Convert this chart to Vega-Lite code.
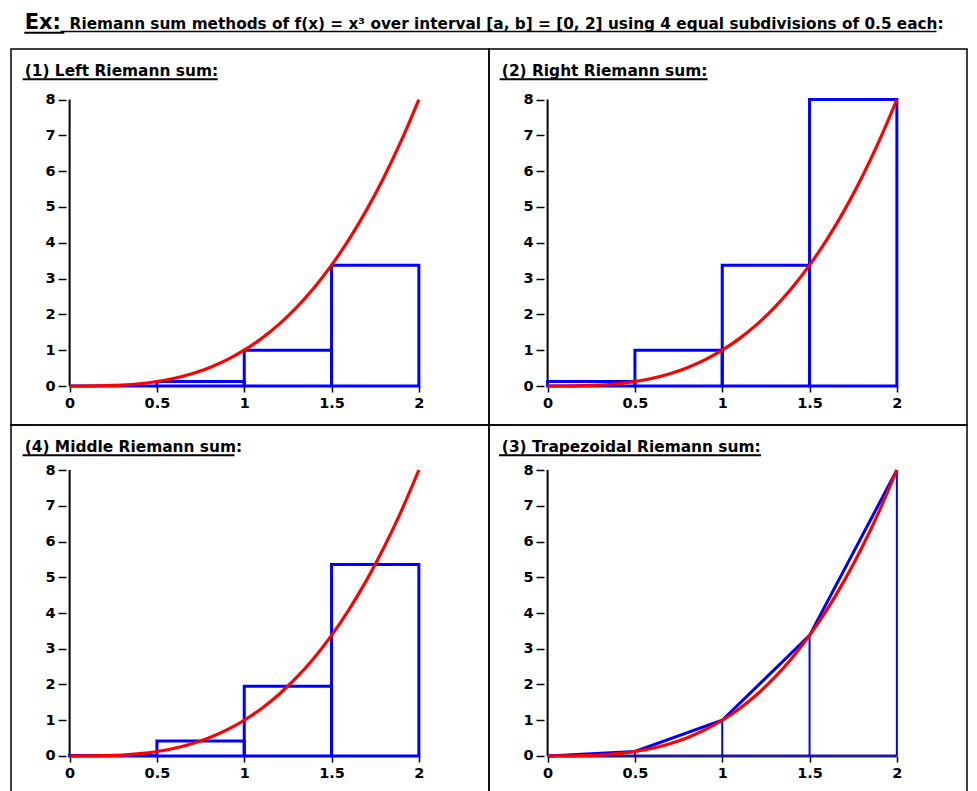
{
  "$schema": "https://vega.github.io/schema/vega-lite/v6.json",
  "padding": {"top": 11, "left": 10, "right": 5, "bottom": 0},
  "background": "white",
  "config": {
    "view": {"stroke": "black", "strokeWidth": 1.5},
    "font": "DejaVu Sans",
    "axis": {"domain": false, "grid": false, "labelFont": "DejaVu Sans", "labelFontWeight": "bold", "labelFontSize": 14.5, "labelColor": "black", "tickColor": "black", "tickWidth": 1.5, "titleOpacity": 0}
  },
  "datasets": {
    "curve": [
      {"x": 0, "y": 0}, {"x": 0.1, "y": 0.001}, {"x": 0.2, "y": 0.008}, {"x": 0.3, "y": 0.027}, {"x": 0.4, "y": 0.064},
      {"x": 0.5, "y": 0.125}, {"x": 0.6, "y": 0.216}, {"x": 0.7, "y": 0.343}, {"x": 0.8, "y": 0.512}, {"x": 0.9, "y": 0.729},
      {"x": 1, "y": 1}, {"x": 1.1, "y": 1.331}, {"x": 1.2, "y": 1.728}, {"x": 1.3, "y": 2.197}, {"x": 1.4, "y": 2.744},
      {"x": 1.5, "y": 3.375}, {"x": 1.6, "y": 4.096}, {"x": 1.7, "y": 4.913}, {"x": 1.8, "y": 5.832}, {"x": 1.9, "y": 6.859},
      {"x": 2, "y": 8}
    ],
    "leftsum": [{"x0": 0, "x1": 0.5, "h": 0}, {"x0": 0.5, "x1": 1, "h": 0.125}, {"x0": 1, "x1": 1.5, "h": 1}, {"x0": 1.5, "x1": 2, "h": 3.375}],
    "rightsum": [{"x0": 0, "x1": 0.5, "h": 0.125}, {"x0": 0.5, "x1": 1, "h": 1}, {"x0": 1, "x1": 1.5, "h": 3.375}, {"x0": 1.5, "x1": 2, "h": 8}],
    "midsum": [{"x0": 0, "x1": 0.5, "h": 0.015625}, {"x0": 0.5, "x1": 1, "h": 0.421875}, {"x0": 1, "x1": 1.5, "h": 1.953125}, {"x0": 1.5, "x1": 2, "h": 5.359375}],
    "trap": [{"x": 0, "y": 0}, {"x": 0.5, "y": 0.125}, {"x": 1, "y": 1}, {"x": 1.5, "y": 3.375}, {"x": 2, "y": 8}],
    "one": [{}]
  },
  "columns": 2,
  "spacing": 0,
  "bounds": "flush",
  "concat": [
    {
      "width": 478, "height": 376,
      "layer": [
        {"data": {"name": "curve"}, "mark": {"type": "rule", "color": "black", "strokeWidth": 2},
         "encoding": {"x": {"datum": 0, "type": "quantitative"}, "y": {"aggregate": "min", "field": "y", "type": "quantitative", "title": null}, "y2": {"aggregate": "max", "field": "y"}}},
        {"data": {"name": "curve"}, "mark": {"type": "rule", "color": "black", "strokeWidth": 2},
         "encoding": {"x": {"aggregate": "min", "field": "x", "type": "quantitative", "title": null}, "x2": {"aggregate": "max", "field": "x"}, "y": {"datum": 0, "type": "quantitative"}}},
        {"data": {"name": "leftsum"}, "mark": {"type": "bar", "orient": "vertical", "fillOpacity": 0, "stroke": "#0000ff", "strokeWidth": 3},
         "encoding": {"x": {"field": "x0", "type": "quantitative", "title": null}, "x2": {"field": "x1"}, "y": {"field": "h", "type": "quantitative", "title": null}}},
        {"data": {"name": "curve"}, "mark": {"type": "line", "color": "#ff0000", "strokeWidth": 3.2, "interpolate": "monotone"},
         "encoding": {
           "x": {"field": "x", "type": "quantitative", "title": null, "scale": {"domain": [-0.307, 2.373], "nice": false, "zero": false}, "axis": {"values": [0, 0.5, 1, 1.5, 2], "format": "~g", "offset": -39, "tickSize": 6, "labelPadding": 4}},
           "y": {"field": "y", "type": "quantitative", "title": null, "scale": {"domain": [-1.089, 9.413], "nice": false, "zero": false}, "axis": {"values": [0, 1, 2, 3, 4, 5, 6, 7, 8], "offset": -55, "tickSize": 8, "labelPadding": 3}}
         }},
        {"data": {"name": "one"}, "mark": {"type": "text", "text": "Ex:", "align": "left", "baseline": "alphabetic", "font": "DejaVu Sans", "fontSize": 21, "fontWeight": "bold", "color": "black"},
         "encoding": {"x": {"datum": -0.257, "type": "quantitative"}, "y": {"datum": 9.972, "type": "quantitative"}}},
        {"data": {"name": "one"}, "mark": {"type": "tick", "orient": "horizontal", "size": 40, "thickness": 2, "color": "black", "opacity": 1},
         "encoding": {"x": {"datum": -0.145, "type": "quantitative"}, "y": {"datum": 9.868, "type": "quantitative"}}},
        {"data": {"name": "one"}, "mark": {"type": "text", "text": "Riemann sum methods of f(x) = x³ over interval [a, b] = [0, 2] using 4 equal subdivisions of 0.5 each:", "align": "left", "baseline": "alphabetic", "font": "DejaVu Sans", "fontSize": 15.3, "fontWeight": "bold", "color": "black"},
         "encoding": {"x": {"datum": 0, "type": "quantitative"}, "y": {"datum": 9.972, "type": "quantitative"}}},
        {"data": {"name": "one"}, "mark": {"type": "tick", "orient": "horizontal", "size": 876, "thickness": 1.5, "color": "black", "opacity": 1},
         "encoding": {"x": {"datum": 2.456, "type": "quantitative"}, "y": {"datum": 9.902, "type": "quantitative"}}},
        {"data": {"name": "one"}, "mark": {"type": "text", "text": "(1) Left Riemann sum:", "align": "left", "baseline": "alphabetic", "font": "DejaVu Sans", "fontSize": 15.4, "fontWeight": "bold", "color": "black"},
         "encoding": {"x": {"datum": -0.257, "type": "quantitative"}, "y": {"datum": 8.659, "type": "quantitative"}}},
        {"data": {"name": "one"}, "mark": {"type": "tick", "orient": "horizontal", "size": 195, "thickness": 2, "color": "black", "opacity": 1},
         "encoding": {"x": {"datum": 0.29, "type": "quantitative"}, "y": {"datum": 8.567, "type": "quantitative"}}}
      ]
    },
    {
      "width": 478, "height": 376,
      "layer": [
        {"data": {"name": "curve"}, "mark": {"type": "rule", "color": "black", "strokeWidth": 2},
         "encoding": {"x": {"datum": 0, "type": "quantitative"}, "y": {"aggregate": "min", "field": "y", "type": "quantitative", "title": null}, "y2": {"aggregate": "max", "field": "y"}}},
        {"data": {"name": "curve"}, "mark": {"type": "rule", "color": "black", "strokeWidth": 2},
         "encoding": {"x": {"aggregate": "min", "field": "x", "type": "quantitative", "title": null}, "x2": {"aggregate": "max", "field": "x"}, "y": {"datum": 0, "type": "quantitative"}}},
        {"data": {"name": "rightsum"}, "mark": {"type": "bar", "orient": "vertical", "fillOpacity": 0, "stroke": "#0000ff", "strokeWidth": 3},
         "encoding": {"x": {"field": "x0", "type": "quantitative", "title": null}, "x2": {"field": "x1"}, "y": {"field": "h", "type": "quantitative", "title": null}}},
        {"data": {"name": "curve"}, "mark": {"type": "line", "color": "#ff0000", "strokeWidth": 3.2, "interpolate": "monotone"},
         "encoding": {
           "x": {"field": "x", "type": "quantitative", "title": null, "scale": {"domain": [-0.307, 2.373], "nice": false, "zero": false}, "axis": {"values": [0, 0.5, 1, 1.5, 2], "format": "~g", "offset": -39, "tickSize": 6, "labelPadding": 4}},
           "y": {"field": "y", "type": "quantitative", "title": null, "scale": {"domain": [-1.089, 9.413], "nice": false, "zero": false}, "axis": {"values": [0, 1, 2, 3, 4, 5, 6, 7, 8], "offset": -55, "tickSize": 8, "labelPadding": 3}}
         }},
        {"data": {"name": "one"}, "mark": {"type": "text", "text": "(2) Right Riemann sum:", "align": "left", "baseline": "alphabetic", "font": "DejaVu Sans", "fontSize": 15.4, "fontWeight": "bold", "color": "black"},
         "encoding": {"x": {"datum": -0.262, "type": "quantitative"}, "y": {"datum": 8.659, "type": "quantitative"}}},
        {"data": {"name": "one"}, "mark": {"type": "tick", "orient": "horizontal", "size": 208, "thickness": 2, "color": "black", "opacity": 1},
         "encoding": {"x": {"datum": 0.321, "type": "quantitative"}, "y": {"datum": 8.567, "type": "quantitative"}}}
      ]
    },
    {
      "width": 478, "height": 376,
      "layer": [
        {"data": {"name": "curve"}, "mark": {"type": "rule", "color": "black", "strokeWidth": 2},
         "encoding": {"x": {"datum": 0, "type": "quantitative"}, "y": {"aggregate": "min", "field": "y", "type": "quantitative", "title": null}, "y2": {"aggregate": "max", "field": "y"}}},
        {"data": {"name": "curve"}, "mark": {"type": "rule", "color": "black", "strokeWidth": 2},
         "encoding": {"x": {"aggregate": "min", "field": "x", "type": "quantitative", "title": null}, "x2": {"aggregate": "max", "field": "x"}, "y": {"datum": 0, "type": "quantitative"}}},
        {"data": {"name": "midsum"}, "mark": {"type": "bar", "orient": "vertical", "fillOpacity": 0, "stroke": "#0000ff", "strokeWidth": 3},
         "encoding": {"x": {"field": "x0", "type": "quantitative", "title": null}, "x2": {"field": "x1"}, "y": {"field": "h", "type": "quantitative", "title": null}}},
        {"data": {"name": "curve"}, "mark": {"type": "line", "color": "#ff0000", "strokeWidth": 3.2, "interpolate": "monotone"},
         "encoding": {
           "x": {"field": "x", "type": "quantitative", "title": null, "scale": {"domain": [-0.307, 2.373], "nice": false, "zero": false}, "axis": {"values": [0, 0.5, 1, 1.5, 2], "format": "~g", "offset": -45, "tickSize": 6, "labelPadding": 4}},
           "y": {"field": "y", "type": "quantitative", "title": null, "scale": {"domain": [-1.259, 9.259], "nice": false, "zero": false}, "axis": {"values": [0, 1, 2, 3, 4, 5, 6, 7, 8], "offset": -55, "tickSize": 8, "labelPadding": 3}}
         }},
        {"data": {"name": "one"}, "mark": {"type": "text", "text": "(4) Middle Riemann sum:", "align": "left", "baseline": "alphabetic", "font": "DejaVu Sans", "fontSize": 15.4, "fontWeight": "bold", "color": "black"},
         "encoding": {"x": {"datum": -0.257, "type": "quantitative"}, "y": {"datum": 8.503, "type": "quantitative"}}},
        {"data": {"name": "one"}, "mark": {"type": "tick", "orient": "horizontal", "size": 212, "thickness": 2, "color": "black", "opacity": 1},
         "encoding": {"x": {"datum": 0.3375, "type": "quantitative"}, "y": {"datum": 8.411, "type": "quantitative"}}}
      ]
    },
    {
      "width": 478, "height": 376,
      "layer": [
        {"data": {"name": "curve"}, "mark": {"type": "rule", "color": "black", "strokeWidth": 2},
         "encoding": {"x": {"datum": 0, "type": "quantitative"}, "y": {"aggregate": "min", "field": "y", "type": "quantitative", "title": null}, "y2": {"aggregate": "max", "field": "y"}}},
        {"data": {"name": "trap"}, "mark": {"type": "bar", "orient": "vertical", "width": 2, "color": "#0000ff"},
         "encoding": {"x": {"field": "x", "type": "quantitative", "title": null}, "y": {"field": "y", "type": "quantitative", "title": null}}},
        {"data": {"name": "curve"}, "mark": {"type": "rule", "color": "#1a1a9a", "strokeWidth": 3},
         "encoding": {"x": {"aggregate": "min", "field": "x", "type": "quantitative", "title": null}, "x2": {"aggregate": "max", "field": "x"}, "y": {"datum": 0, "type": "quantitative"}}},
        {"data": {"name": "trap"}, "mark": {"type": "line", "color": "#0000ff", "strokeWidth": 3},
         "encoding": {"x": {"field": "x", "type": "quantitative", "title": null}, "y": {"field": "y", "type": "quantitative", "title": null}}},
        {"data": {"name": "curve"}, "mark": {"type": "line", "color": "#ff0000", "strokeWidth": 3.2, "interpolate": "monotone"},
         "encoding": {
           "x": {"field": "x", "type": "quantitative", "title": null, "scale": {"domain": [-0.307, 2.373], "nice": false, "zero": false}, "axis": {"values": [0, 0.5, 1, 1.5, 2], "format": "~g", "offset": -45, "tickSize": 6, "labelPadding": 4}},
           "y": {"field": "y", "type": "quantitative", "title": null, "scale": {"domain": [-1.259, 9.259], "nice": false, "zero": false}, "axis": {"values": [0, 1, 2, 3, 4, 5, 6, 7, 8], "offset": -55, "tickSize": 8, "labelPadding": 3}}
         }},
        {"data": {"name": "one"}, "mark": {"type": "text", "text": "(3) Trapezoidal Riemann sum:", "align": "left", "baseline": "alphabetic", "font": "DejaVu Sans", "fontSize": 15.4, "fontWeight": "bold", "color": "black"},
         "encoding": {"x": {"datum": -0.262, "type": "quantitative"}, "y": {"datum": 8.503, "type": "quantitative"}}},
        {"data": {"name": "one"}, "mark": {"type": "tick", "orient": "horizontal", "size": 262, "thickness": 2, "color": "black", "opacity": 1},
         "encoding": {"x": {"datum": 0.472, "type": "quantitative"}, "y": {"datum": 8.411, "type": "quantitative"}}}
      ]
    }
  ]
}
